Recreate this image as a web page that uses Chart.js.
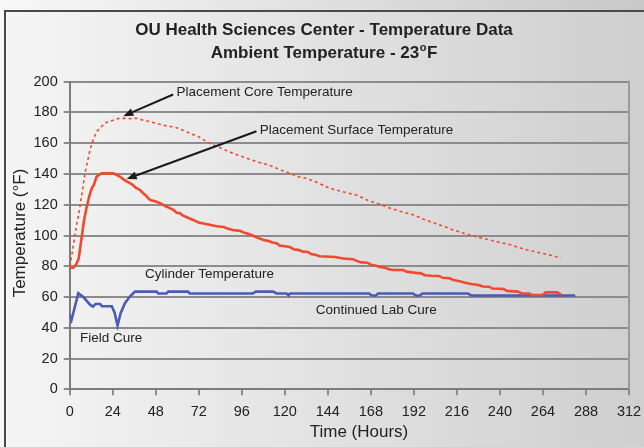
<!DOCTYPE html>
<html>
<head>
<meta charset="utf-8">
<script src="https://cdn.jsdelivr.net/npm/chart.js@4.4.0/dist/chart.umd.min.js"></script>
<style>
  html, body { margin: 0; padding: 0; width: 644px; height: 447px; overflow: hidden; }
  body { background: linear-gradient(to right, #f8f8f8, #c8c8c8); position: relative; }
  #frame { position: absolute; left: 4px; top: 10px; width: 700px; height: 500px;
           border-left: 2px solid #4a4a4a; border-top: 2px solid #4a4a4a;
           background: linear-gradient(to right, #f5f5f5, #cbcbcb); }
  #c { position: absolute; left: 0; top: 0; }
</style>
</head>
<body>
<div id="frame"></div>
<canvas id="c" width="644" height="447"></canvas>
<script>
// ---- data ----
const titleLine1 = "OU Health Sciences Center - Temperature Data";
const titleLine2 = "Ambient Temperature - 23";
const xTitle = "Time (Hours)";
const yTitle = "Temperature (\u00B0F)";

const coreHours = [0,1,3,5.7,8.5,11.3,13,15,17,19.7,22,24.3,27,30,34,37.3,41,44.8,48,52.2,55,57.7,61,65.2,67,71.7,78,84,91,97,104,109,113.5,118,123,128,132,138,145,152,160,166,173,178,185,192,197,205,214,221,229,238,246,253,262,270,274];
const coreTemps = [80,86,101.5,118.7,140.4,155.6,162,167.5,170,173.3,174,175,176,176.2,176,176.2,175,174,173,171.8,171,170.7,169.5,167.5,166.4,164.3,160,157,153.4,151,148,146.5,144.7,142.5,140.4,138,137.2,134.5,130.7,128.5,126.3,123,120.3,118,115.5,113.3,110.7,107.5,103.6,101,98.6,96,94,91.2,88.8,86.7,85.2];

const surfHours = [0,2,3.5,5,6.7,8,9.5,11,12.3,13.5,15,16.5,17.8,24.3,26,28,30,32,33.6,35,37,39.2,41,42.5,43.8,45,47,48.5,50.3,52,53.5,55.9,58,59.6,61.5,63,65,68.9,70,72,76,78,82,86,88,91,95,97,98.6,101,104,106,108.5,111,113,115.4,117,120,122.8,125,128,130,133,134.5,137,139.5,148,152.5,158,160,162.8,166,168,171,173,176,178,180.4,186,188,193,196,198,201.8,206,208,212,214,217.6,220,224,228,230.5,234,236,242,244,250,252,256,258,264,265.5,272,274];
const surfTemps = [79,79,81,85,99,110,118.7,126,130.7,133,138.3,139.5,140.4,140.4,139.5,138.3,136.5,135,134,133,131,129.6,127.5,126,124.2,123,122.5,122,121,120,119,117.8,116.5,114.8,114.5,113,112,110.1,109.5,108.5,107.5,107,106,105.5,104.5,103.6,103,102,101.5,100.5,99,98,97,96.5,95.5,95,93.5,93,92.5,91,90.5,89.5,89.3,88,87.5,86.5,86,85,84.6,83.5,82.5,82.3,81,80.3,79.5,79,78,77.6,77.6,76.5,75.7,75.4,74.2,73.8,73.7,72.5,72.2,71,70.2,69.5,68.5,67.8,66.8,66.7,65.5,65.2,64,63.5,62.5,62.3,61.3,61.3,63,63,61.5];

const cylHours = [0,1,4.8,7.6,9.5,11.3,13,14.5,17,18,23.5,25,26.7,28.4,30.8,33.6,36.4,48.5,49.4,54,55,66,67,102,104,113.5,115.4,121,122,123,167,168.5,171,172,191.5,193,195.5,196.6,222,224,282];
const cylTemps = [48,45,62.5,60,57.5,55,53.8,55.5,55.5,54,54,50,41.5,49.5,56,60.3,63.5,63.5,62.3,62.3,63.5,63.5,62.3,62.3,63.5,63.5,62.3,62.3,61,62.3,62.3,61,61,62.3,62.3,61,61,62.3,62.3,61,61];

// annotation texts
const labels = [
  { text: "Placement Core Temperature", x: 59.6, y: 192.8 },
  { text: "Placement Surface Temperature", x: 106, y: 168.3 },
  { text: "Cylinder Temperature", x: 42, y: 74.5 },
  { text: "Continued Lab Cure", x: 137.3, y: 51.7 },
  { text: "Field Cure", x: 5.7, y: 33.4 }
];
const arrows = [
  { from: [57.7, 191.7], to: [29.9, 177.6] },
  { from: [104.2, 167.8], to: [31.8, 136.8] }
];

const pts = (xs, ys) => xs.map((x, i) => ({ x: x, y: ys[i] }));
const FONT = "'Liberation Sans', Arial, sans-serif";

const overlay = {
  id: 'overlay',
  afterDraw(chart) {
    const ctx = chart.ctx, xs = chart.scales.x, ys = chart.scales.y, a = chart.chartArea;
    ctx.save();
    // right plot border
    ctx.strokeStyle = '#9a9a9a'; ctx.lineWidth = 2;
    ctx.beginPath(); ctx.moveTo(a.right, a.top - 1); ctx.lineTo(a.right, a.bottom); ctx.stroke();

    // titles
    ctx.fillStyle = '#222';
    ctx.textBaseline = 'middle';
    ctx.textAlign = 'center';
    ctx.font = "bold 17px " + FONT;
    ctx.fillText(titleLine1, 324, 30);
    // line 2 with superscript o
    const w1 = ctx.measureText(titleLine2).width;
    ctx.font = "bold 11px " + FONT;
    const wo = ctx.measureText("o").width;
    ctx.font = "bold 17px " + FONT;
    const wf = ctx.measureText("F").width;
    const total = w1 + wo + wf + 1;
    let sx = 324 - total / 2;
    ctx.textAlign = 'left';
    ctx.fillText(titleLine2, sx, 53);
    ctx.font = "bold 11px " + FONT;
    ctx.fillText("o", sx + w1 + 0.5, 47.5);
    ctx.font = "bold 17px " + FONT;
    ctx.fillText("F", sx + w1 + wo + 1, 53);

    // axis titles
    ctx.font = "17px " + FONT;
    ctx.textAlign = 'center';
    ctx.fillText(xTitle, 359, 432);
    ctx.save();
    ctx.translate(20, 233);
    ctx.rotate(-Math.PI / 2);
    ctx.fillText(yTitle, 0, 0);
    ctx.restore();

    // annotation labels
    ctx.font = "13.5px " + FONT;
    ctx.textAlign = 'left';
    ctx.fillStyle = '#222';
    labels.forEach(l => ctx.fillText(l.text, xs.getPixelForValue(l.x), ys.getPixelForValue(l.y)));

    // arrows
    ctx.strokeStyle = '#1a1a1a'; ctx.fillStyle = '#1a1a1a'; ctx.lineWidth = 2;
    arrows.forEach(ar => {
      const x1 = xs.getPixelForValue(ar.from[0]), y1 = ys.getPixelForValue(ar.from[1]);
      const x2 = xs.getPixelForValue(ar.to[0]), y2 = ys.getPixelForValue(ar.to[1]);
      const ang = Math.atan2(y2 - y1, x2 - x1);
      const hl = 10, hw = 4;
      const bx = x2 - hl * Math.cos(ang), by = y2 - hl * Math.sin(ang);
      ctx.beginPath(); ctx.moveTo(x1, y1); ctx.lineTo(bx, by); ctx.stroke();
      ctx.beginPath();
      ctx.moveTo(x2, y2);
      ctx.lineTo(bx + hw * Math.sin(ang), by - hw * Math.cos(ang));
      ctx.lineTo(bx - hw * Math.sin(ang), by + hw * Math.cos(ang));
      ctx.closePath(); ctx.fill();
    });
    ctx.restore();
  }
};

new Chart(document.getElementById('c'), {
  type: 'line',
  data: {
    datasets: [
      { label: 'Placement Core Temperature', data: pts(coreHours, coreTemps),
        borderColor: '#ef4a2e', borderWidth: 1.6, borderDash: [3, 3], pointRadius: 0, tension: 0, fill: false },
      { label: 'Placement Surface Temperature', data: pts(surfHours, surfTemps),
        borderColor: '#ef4a2e', borderWidth: 2.6, pointRadius: 0, tension: 0, fill: false },
      { label: 'Cylinder Temperature', data: pts(cylHours, cylTemps),
        borderColor: '#4a5bb4', borderWidth: 2.6, pointRadius: 0, tension: 0, fill: false }
    ]
  },
  options: {
    responsive: false,
    devicePixelRatio: 1,
    animation: false,
    events: [],
    layout: { padding: { left: 0, right: 15, top: 81.7, bottom: 0 } },
    plugins: { legend: { display: false }, tooltip: { enabled: false }, title: { display: false } },
    scales: {
      x: {
        type: 'linear', min: 0, max: 312,
        ticks: { stepSize: 24, font: { size: 14.5, family: FONT }, color: '#222', padding: 8, maxRotation: 0 },
        grid: { drawOnChartArea: false, drawTicks: true, tickLength: 6, color: '#8c8c8c', lineWidth: 2 },
        border: { color: '#7c7c7c', width: 2 },
        afterFit: s => { s.height = 447 - 389.3; s.paddingLeft = 0; s.paddingRight = 0; }
      },
      y: {
        min: 0, max: 200,
        ticks: { stepSize: 20, font: { size: 14.5, family: FONT }, color: '#222', padding: 6 },
        grid: { color: '#8c8c8c', lineWidth: 2, tickLength: 6 },
        border: { color: '#7c7c7c', width: 2 },
        afterFit: s => { s.width = 69.7; s.paddingTop = 0; s.paddingBottom = 0; }
      }
    }
  },
  plugins: [overlay]
});
</script>
</body>
</html>
